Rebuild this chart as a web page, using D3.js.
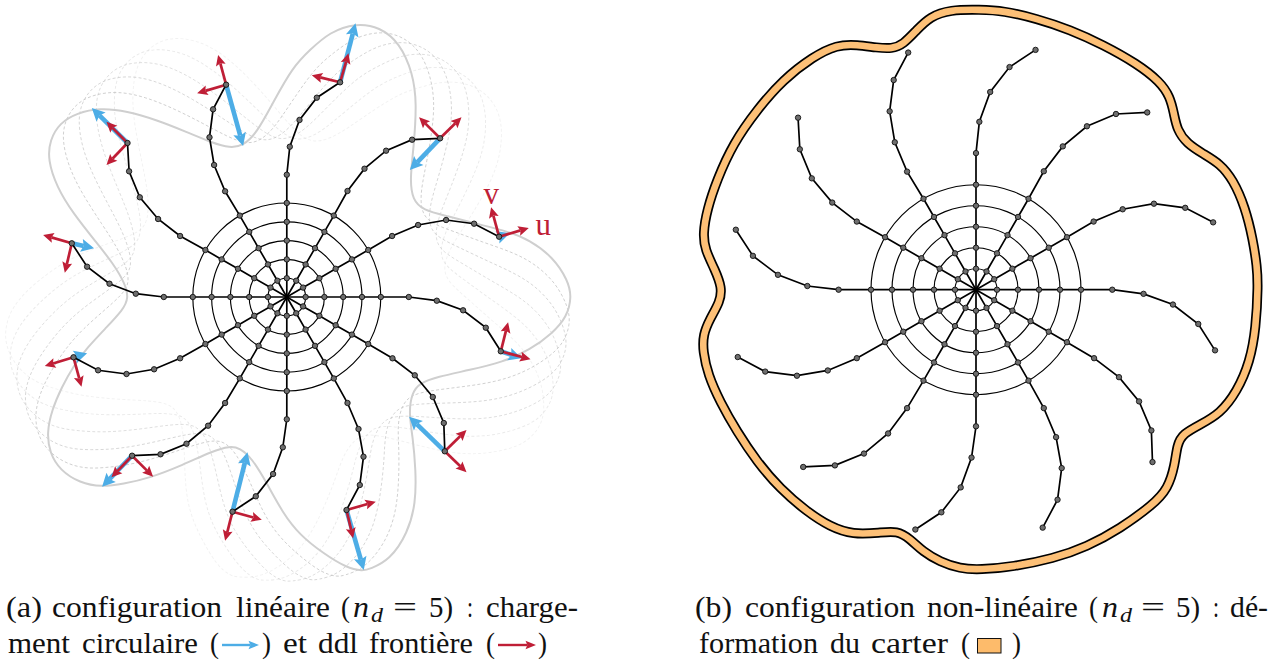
<!DOCTYPE html>
<html>
<head>
<meta charset="utf-8">
<script src="https://cdn.jsdelivr.net/npm/d3@7"></script>
<style>
  html, body { margin: 0; padding: 0; background: #fff; }
  text { font-family: "Liberation Serif", serif; fill: #111; }
</style>
</head>
<body>
<svg id="fig" width="1270" height="663"></svg>
<script>
// all values in drawing units, origin on the hub, y going up
const ringRadii = [18.8, 37.6, 56.4, 75.2, 94];
const spokeAngles = [0, 30, 60, 90, 120, 150, 180, 210, 240, 270, 300, 330];

// free part of each blade, same order as spokeAngles (angle goes anticlockwise from east)
const arm000 = [[122, 0], [150, -3.7], [176.3, -13.3], [199, -30.7], [214, -54.3]];
const arm030 = [[105.3, 61], [131.3, 72], [159.3, 77], [187.3, 73.3], [212.3, 60.3]];
const arm060 = [[60.7, 106], [77.7, 128.3], [99.3, 146.3], [125.3, 157.3], [153.3, 158.7]];
const arm090 = [[0, 122.3], [3, 150.3], [12.7, 177], [30, 199.3], [53.3, 214.7]];
const arm120 = [[-61.7, 105.7], [-72.7, 132], [-77.3, 159.7], [-73.7, 187.7], [-60.7, 212.3]];
const arm150 = [[-106.7, 61], [-128.7, 78], [-147, 99.7], [-157.7, 125.7], [-159.3, 154]];
const arm180 = [[-123, 0], [-151, 3.3], [-177.3, 13.3], [-199.7, 30.3], [-215, 53.7]];
const arm210 = [[-106.7, -61.3], [-132.7, -72.3], [-160.3, -77], [-188.7, -73.3], [-213.3, -60.3]];
const arm240 = [[-61.7, -106], [-78.7, -128.7], [-100.3, -146.7], [-126.3, -157.3], [-154.7, -158.7]];
const arm270 = [[0, -122.3], [-4, -150.3], [-13.7, -177], [-31, -199.3], [-54.3, -214.7]];
const arm300 = [[60.7, -106], [71.7, -132], [76.7, -159.7], [73, -188], [59.7, -213]];
const arm330 = [[105.7, -61.3], [128, -78.3], [146, -100], [157, -126], [158, -154.3]];
const arms = [arm000, arm030, arm060, arm090, arm120, arm150, arm180, arm210, arm240, arm270, arm300, arm330];

// tips of the arrows at the end of each blade
const blueTips = [[234.7, -61.3], [223, 63.7], [123, 127], [68.7, 273.7], [-43.7, 151], [-195, 189], [-192.7, 48.7], [-199.7, -56.3], [-184.7, -189.7], [-39.3, -155.3], [77, -273], [122.3, -119.7]];
const redTipsU = [[243.7, -62.3], [242, 69], [174.7, 179.7], [61.7, 243.7], [-68.7, 242], [-180.3, 175.3], [-243.7, 62], [-242, -69], [-175.3, -180.3], [-61.7, -243.7], [66.3, -241.3], [179.7, -175.3]];
const redTipsV = [[221.3, -25.3], [204.3, 89.7], [132.3, 179.7], [25, 221.7], [-89.7, 203.7], [-180.3, 132], [-222, 24.3], [-205.3, -89.7], [-133.7, -179.7], [-25, -222.7], [89, -204.7], [179.7, -133]];

// gap between the unloaded casing and the rotated copies, in degrees
const wavePhases = [5.4, 10.8, 16.2, 21.6, 27];
const waveOpacity = [0.85, 0.7, 0.55, 0.38, 0.24];

// casing of panel (a), clockwise from the top lobe
const casingA = [[69, 274], [93, 270], [113, 254], [126, 224], [130, 194], [127, 150], [123, 117], [126, 97], [136, 87], [160, 81], [190, 73], [220, 66], [243, 57], [266, 40], [281, 17], [285, 0], [280, -20], [266, -36], [243, -53], [216, -65], [183, -73], [150, -80], [133, -86], [125, -96], [122, -116], [126, -140], [129, -173], [129, -206], [121, -236], [103, -263], [83, -272], [76, -274], [60, -271], [36, -256], [13, -238], [-4, -216], [-20, -186], [-35, -161], [-47, -151], [-57, -149], [-74, -154], [-104, -168], [-137, -181], [-164, -187], [-185, -190], [-207, -186], [-227, -173], [-237, -156], [-240, -136], [-235, -113], [-225, -90], [-214, -70], [-200, -51], [-180, -30], [-164, -13], [-158, -1], [-162, 14], [-174, 34], [-190, 54], [-214, 84], [-230, 110], [-239, 137], [-237, 157], [-227, 174], [-210, 184], [-187, 189], [-160, 186], [-130, 177], [-100, 165], [-74, 154], [-57, 149], [-44, 151], [-30, 164], [-14, 194], [6, 230], [23, 247], [43, 265]];

// casing of panel (b), read at its own size
const casingB = [[4, 280], [27, 279], [61, 271], [94, 260], [127, 245], [161, 226], [184, 208], [194, 193], [198, 176], [201, 160], [211, 146], [227, 136], [244, 126], [257, 110], [269, 83], [277, 50], [281, 23], [282, 5], [280, -38], [274, -72], [261, -102], [244, -124], [224, -135], [207, -144], [201, -155], [199, -175], [192, -199], [177, -215], [144, -239], [111, -257], [77, -269], [37, -277], [4, -280], [-16, -279], [-36, -272], [-53, -262], [-66, -249], [-79, -241], [-96, -243], [-123, -245], [-146, -237], [-169, -222], [-196, -199], [-219, -172], [-239, -142], [-256, -112], [-268, -85], [-273, -62], [-273, -45], [-266, -29], [-256, -12], [-254, 2], [-261, 20], [-271, 40], [-273, 56], [-269, 80], [-259, 110], [-243, 146], [-219, 180], [-193, 210], [-163, 233], [-139, 245], [-119, 245], [-99, 242], [-84, 241], [-73, 245], [-59, 260], [-46, 273], [-26, 280]];

const BLUE = "#4dade6";
const RED = "#bf1e36";
const ORANGE = "#fdc077";
const GRAY = "#cfcfcf";

const svg = d3.select("#fig");

function makeScales(cx, cy, k) {
    return {
        x: d3.scaleLinear().domain([-300, 300]).range([cx - 300 * k, cx + 300 * k]),
        y: d3.scaleLinear().domain([-300, 300]).range([cy + 300 * k, cy - 300 * k])
    };
}

const sA = makeScales(286.8, 297, 1);
const sB = makeScales(976, 289.7, 21 / 18.8);
const sCasingB = makeScales(976, 289.7, 1);

function polar(angle, r) {
    const a = angle * Math.PI / 180;
    return [r * Math.cos(a), r * Math.sin(a)];
}

// one arrow, the head is allowed to go back over the start for the short ones
function arrow(g, from, to, color, width, headLen, headWid) {
    const dx = to[0] - from[0], dy = to[1] - from[1];
    const len = Math.hypot(dx, dy);
    const ux = dx / len, uy = dy / len;
    const back = [to[0] - ux * headLen, to[1] - uy * headLen];
    const notch = [to[0] - ux * headLen * 0.82, to[1] - uy * headLen * 0.82];
    if (len > headLen * 0.82) {
        g.append("line")
            .attr("x1", from[0]).attr("y1", from[1])
            .attr("x2", notch[0]).attr("y2", notch[1])
            .attr("stroke", color).attr("stroke-width", width);
    }
    const c1 = [back[0] - uy * headWid / 2, back[1] + ux * headWid / 2];
    const c2 = [back[0] + uy * headWid / 2, back[1] - ux * headWid / 2];
    g.append("path")
        .attr("d", "M" + to + "L" + c1 + "L" + notch + "L" + c2 + "Z")
        .attr("fill", color);
}

function drawWheel(g, s) {
    const r = s.x(1) - s.x(0);
    g.selectAll("circle.ring").data(ringRadii).enter().append("circle")
        .attr("class", "ring")
        .attr("cx", s.x(0)).attr("cy", s.y(0))
        .attr("r", d => d * r)
        .attr("fill", "none").attr("stroke", "#000").attr("stroke-width", 1.15);

    const line = d3.line().x(d => s.x(d[0])).y(d => s.y(d[1]));
    const nodes = [];
    spokeAngles.forEach((angle, i) => {
        const inner = ringRadii.map(d => polar(angle, d));
        const blade = [[0, 0]].concat(inner, arms[i]);
        g.append("path").attr("d", line(blade))
            .attr("fill", "none").attr("stroke", "#000").attr("stroke-width", 1.7);
        inner.concat(arms[i]).forEach(d => nodes.push(d));
    });
    g.selectAll("circle.node").data(nodes).enter().append("circle")
        .attr("class", "node")
        .attr("cx", d => s.x(d[0])).attr("cy", d => s.y(d[1]))
        .attr("r", 2.7)
        .attr("fill", "#6e6e6e").attr("stroke", "#111").attr("stroke-width", 0.9);
}

// panel (a)
const gA = svg.append("g");
const lineA = d3.line().x(d => sA.x(d[0])).y(d => sA.y(d[1])).curve(d3.curveBasisClosed);

wavePhases.forEach((phase, i) => {
    gA.append("path").attr("d", lineA(casingA))
        .attr("transform", "rotate(" + phase + " " + sA.x(0) + " " + sA.y(0) + ")")
        .attr("fill", "none").attr("stroke", "#c4c4c4").attr("stroke-width", 0.9)
        .attr("stroke-dasharray", "3 2.2").attr("opacity", waveOpacity[i]);
});
gA.append("path").attr("d", lineA(casingA))
    .attr("fill", "none").attr("stroke", GRAY).attr("stroke-width", 2);

const toA = d => [sA.x(d[0]), sA.y(d[1])];
arms.forEach((arm, i) => {
    arrow(gA, toA(arm[4]), toA(blueTips[i]), BLUE, 4.6, 13, 13);
});
arms.forEach((arm, i) => {
    arrow(gA, toA(arm[4]), toA(redTipsU[i]), RED, 2.7, 10.5, 10);
    arrow(gA, toA(arm[4]), toA(redTipsV[i]), RED, 2.7, 10.5, 10);
});
drawWheel(gA, sA);

svg.append("text").text("v").attr("x", sA.x(204.5)).attr("y", sA.y(93.5))
    .attr("font-size", 31).attr("text-anchor", "middle").style("fill", RED);
svg.append("text").text("u").attr("x", sA.x(256.5)).attr("y", sA.y(62))
    .attr("font-size", 31).attr("text-anchor", "middle").style("fill", RED);

// panel (b)
const gB = svg.append("g");
const lineB = d3.line().x(d => sCasingB.x(d[0])).y(d => sCasingB.y(d[1])).curve(d3.curveBasisClosed);
gB.append("path").attr("d", lineB(casingB)).attr("fill", "none").attr("stroke", "#000").attr("stroke-width", 10);
gB.append("path").attr("d", lineB(casingB)).attr("fill", "none").attr("stroke", ORANGE).attr("stroke-width", 6.6);
drawWheel(gB, sB);

// captions, each piece stretched to the width it has in the figure
const line1 = 617, line2 = 653;
const captionParts = [
    ["(a)", 6, 42, line1], ["configuration", 52, 222, line1], ["linéaire", 236, 330, line1],
    ["(", 341, 350, line1], ["=", 393, 417, line1], ["5)", 429, 453, line1], [":", 467, 473, line1],
    ["charge-", 486, 578, line1],
    ["ment", 8, 70, line2], ["circulaire", 82, 198, line2], ["(", 210, 219, line2], [")", 262, 271, line2],
    ["et", 283, 307, line2], ["ddl", 318, 358, line2], ["frontière", 369, 473, line2],
    ["(", 486, 495, line2], [")", 538, 547, line2],
    ["(b)", 695, 732, line1], ["configuration", 745, 915, line1], ["non-linéaire", 927, 1078, line1],
    ["(", 1089, 1098, line1], ["=", 1141, 1165, line1], ["5)", 1176, 1200, line1], [":", 1213, 1219, line1],
    ["dé-", 1230, 1268, line1],
    ["formation", 699, 818, line2], ["du", 830, 860, line2], ["carter", 871, 948, line2],
    ["(", 961, 970, line2], [")", 1012, 1021, line2]
];
svg.selectAll("text.cap").data(captionParts).enter().append("text")
    .attr("class", "cap")
    .attr("x", d => d[1]).attr("y", d => d[3])
    .attr("font-size", 28.5)
    .attr("textLength", d => d[2] - d[1]).attr("lengthAdjust", "spacingAndGlyphs")
    .text(d => d[0]);

const mathParts = [
    ["n", 353, 369, line1, 28.5], ["d", 371, 383, line1 + 5, 20],
    ["n", 1102, 1118, line1, 28.5], ["d", 1120, 1132, line1 + 5, 20]
];
svg.selectAll("text.math").data(mathParts).enter().append("text")
    .attr("class", "math")
    .attr("x", d => d[1]).attr("y", d => d[3])
    .attr("font-size", d => d[4]).attr("font-style", "italic")
    .attr("textLength", d => d[2] - d[1]).attr("lengthAdjust", "spacingAndGlyphs")
    .text(d => d[0]);

arrow(svg, [222, 645], [259, 645], BLUE, 2.4, 10.5, 8.5);
arrow(svg, [498, 645], [536, 645], RED, 2.4, 10.5, 8.5);
svg.append("rect").attr("x", 977.5).attr("y", 638.5).attr("width", 23.5).attr("height", 14.5)
    .attr("fill", "#fdbb6b").attr("stroke", "#111").attr("stroke-width", 1);
</script>
</body>
</html>
